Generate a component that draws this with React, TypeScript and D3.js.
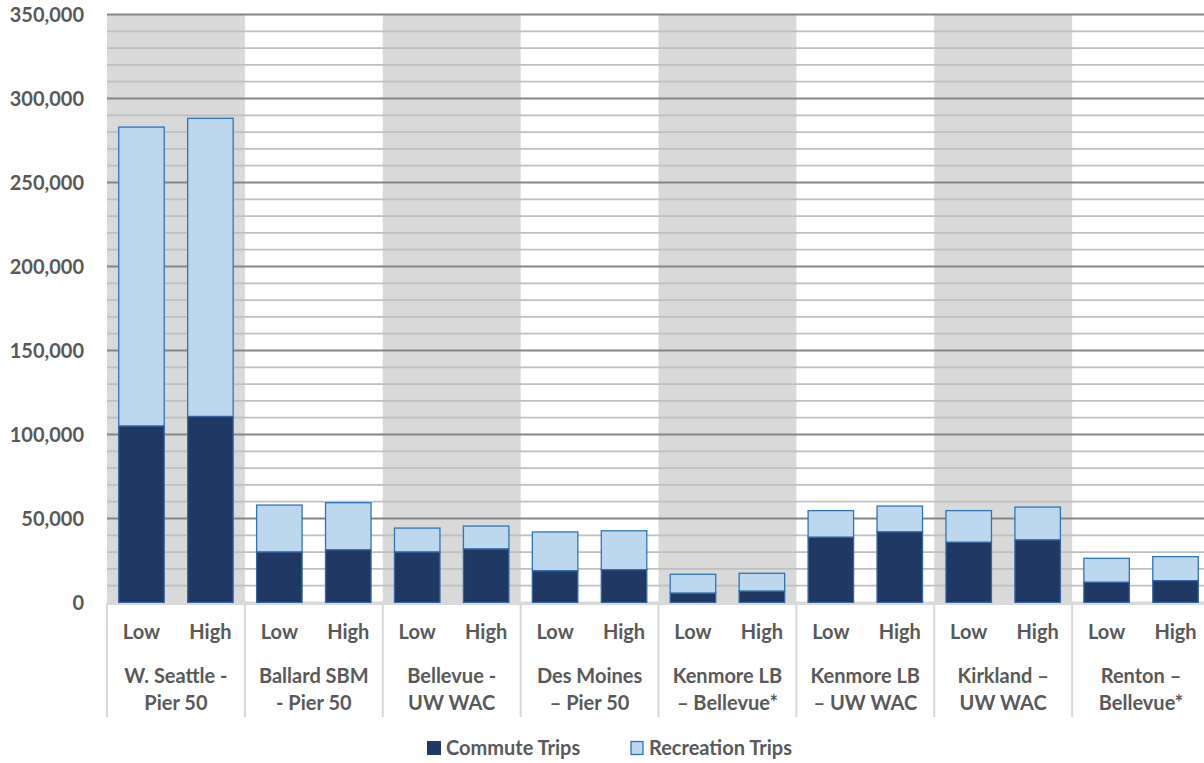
import React from "react";
import * as d3 from "d3";

const groups = [
  ["W. Seattle -", "Pier 50"],
  ["Ballard SBM", "- Pier 50"],
  ["Bellevue -", "UW WAC"],
  ["Des Moines", "– Pier 50"],
  ["Kenmore LB", "– Bellevue*"],
  ["Kenmore LB", "– UW WAC"],
  ["Kirkland –", "UW WAC"],
  ["Renton –", "Bellevue*"],
];
const scenarios = ["Low", "High"];
// [Low, High] per group
const commuteTrips = [
  [105000, 110700],
  [30000, 31300],
  [30000, 31800],
  [18800, 19500],
  [5500, 6700],
  [38800, 42000],
  [35800, 37200],
  [12000, 13000],
];
const recreationTrips = [
  [178000, 177500],
  [28000, 28100],
  [14300, 13700],
  [23200, 23200],
  [11300, 10700],
  [15900, 15400],
  [18900, 19600],
  [14300, 14300],
];
const yTicks = [0, 50000, 100000, 150000, 200000, 250000, 300000, 350000];
const seriesNames = ["Commute Trips", "Recreation Trips"];

const W = 1204;
const H = 763;
const FONT = "Lato, 'Open Sans', sans-serif";
const TEXT = "#595959";

export default function App() {
  const x = d3
    .scaleBand<number>()
    .domain(d3.range(groups.length))
    .range([107, 1210])
    .padding(0);
  const xs = d3
    .scaleBand<string>()
    .domain(scenarios)
    .range([0, x.bandwidth()])
    .paddingInner(0.34)
    .paddingOuter(0.17);
  const y = d3.scaleLinear().domain([0, 350000]).range([602.5, 14.5]);
  const minor = d3.range(0, 350001, 10000);
  const fmt = d3.format(",");

  return (
    <svg
      width={W}
      height={H}
      style={{ position: "absolute", left: 0, top: 0, background: "#fff" }}
      fontFamily={FONT}
    >
      {/* alternating bands */}
      {groups.map((_, i) =>
        i % 2 === 0 ? (
          <rect
            key={"b" + i}
            x={x(i)!}
            y={y(350000)}
            width={x.bandwidth()}
            height={y(0) - y(350000)}
            fill="#d9d9d9"
          />
        ) : null
      )}
      {/* gridlines */}
      {minor.map((v) => (
        <line
          key={"g" + v}
          x1={107}
          x2={1210}
          y1={y(v)}
          y2={y(v)}
          stroke={v % 50000 === 0 ? (v === 0 ? "#d9d9d9" : "#858585") : "#bfbfbf"}
          strokeWidth={v % 50000 === 0 ? 2 : 1.8}
        />
      ))}
      {/* bars */}
      {groups.map((_, i) =>
        scenarios.map((s, j) => {
          const bx = x(i)! + xs(s)!;
          const c = commuteTrips[i][j];
          const r = recreationTrips[i][j];
          return (
            <g key={"bar" + i + s}>
              <rect
                x={bx}
                y={y(c + r)}
                width={xs.bandwidth()}
                height={y(c) - y(c + r)}
                fill="#bdd7ee"
                stroke="#2e75b6"
                strokeWidth={1.3}
              />
              <rect
                x={bx}
                y={y(c)}
                width={xs.bandwidth()}
                height={y(0) - y(c)}
                fill="#203864"
                stroke="#3566a0"
                strokeWidth={1.3}
              />
            </g>
          );
        })
      )}
      {/* axis line & separators */}
      <line x1={107} x2={1210} y1={604} y2={604} stroke="#d9d9d9" strokeWidth={2} />
      {d3.range(groups.length).map((i) => (
        <line
          key={"s" + i}
          x1={x(i)!}
          x2={x(i)!}
          y1={603}
          y2={717}
          stroke="#d9d9d9"
          strokeWidth={2}
        />
      ))}
      {/* y tick labels */}
      {yTicks.map((v) => (
        <text
          key={"t" + v}
          x={84}
          y={y(v)}
          dy="0.35em"
          textAnchor="end"
          fontSize={20}
          fontWeight="bold"
          fill={TEXT}
        >
          {fmt(v)}
        </text>
      ))}
      {/* x labels */}
      {groups.map((g, i) => (
        <g key={"xl" + i}>
          {scenarios.map((s) => (
            <text
              key={s}
              x={x(i)! + xs(s)! + xs.bandwidth() / 2}
              y={632}
              dy="0.35em"
              textAnchor="middle"
              fontSize={20}
              fontWeight="bold"
              fill={TEXT}
            >
              {s}
            </text>
          ))}
          {g.map((line, k) => (
            <text
              key={k}
              x={x(i)! + x.bandwidth() / 2}
              y={676 + k * 27}
              dy="0.35em"
              textAnchor="middle"
              fontSize={20}
              fontWeight="bold"
              fill={TEXT}
            >
              {line}
            </text>
          ))}
        </g>
      ))}
      {/* legend */}
      <rect x={427} y={741} width={14} height={14} fill="#203864" />
      <text x={446} y={748} dy="0.35em" fontSize={20} fontWeight="bold" fill={TEXT}>
        {seriesNames[0]}
      </text>
      <rect x={631} y={741.5} width={12} height={13} fill="#bdd7ee" stroke="#2e75b6" strokeWidth={1.3} />
      <text x={649} y={748} dy="0.35em" fontSize={20} fontWeight="bold" fill={TEXT}>
        {seriesNames[1]}
      </text>
    </svg>
  );
}
